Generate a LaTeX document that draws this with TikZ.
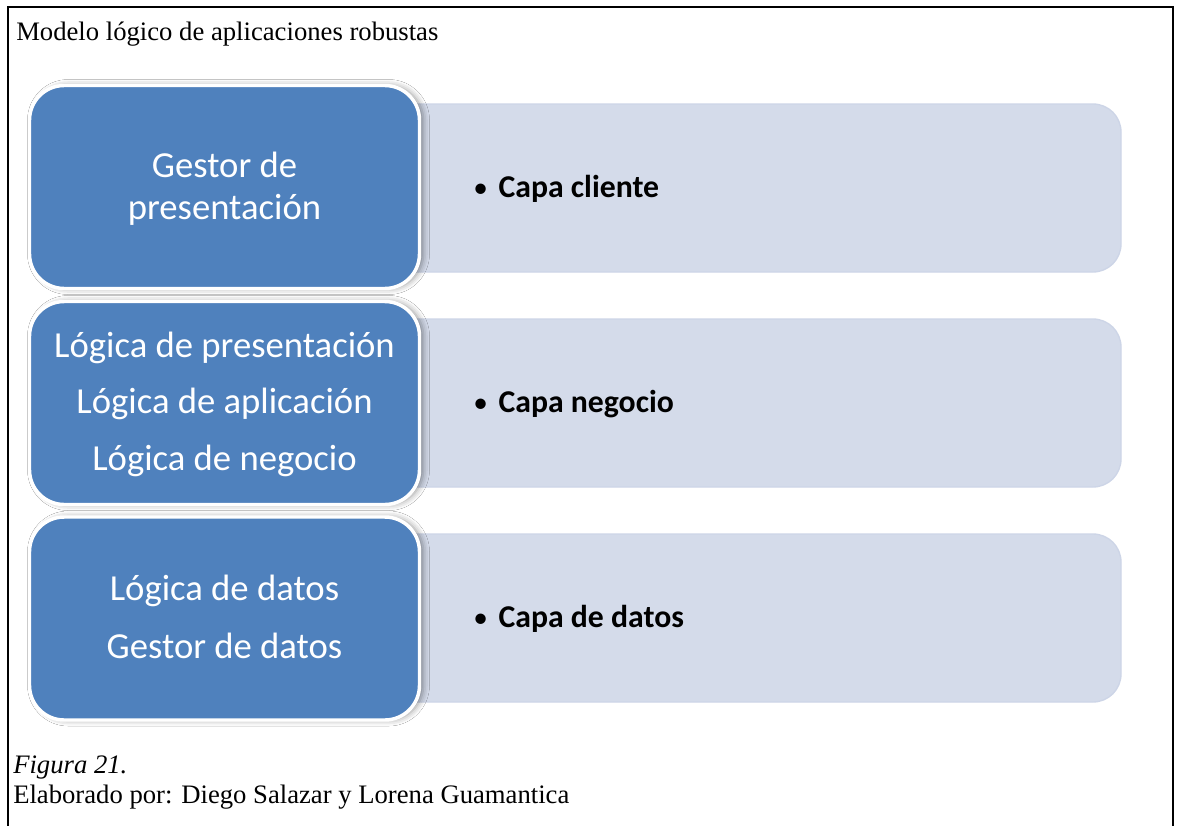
\documentclass[tikz,border=0pt]{standalone}
\usepackage{fontspec}
\setmainfont{Liberation Serif}
\newfontfamily\calibri{Carlito}
\usetikzlibrary{shadows.blur}
\definecolor{bluefill}{HTML}{4F81BD}
\definecolor{lightfill}{HTML}{D4DBEA}
\definecolor{lightedge}{HTML}{CDD5E7}
\newcommand{\layerbullet}{\makebox[19pt][l]{\mdseries\fontsize{22}{26}\selectfont•}}
\begin{document}
\begin{tikzpicture}[x=0.75pt,y=-0.75pt,
  frame/.style={draw=black, line width=1.5pt},
  lightbox/.style={fill=lightfill, draw=lightedge, line width=1pt, rounded corners=21pt,
    minimum width=593.25pt, minimum height=126pt, inner sep=0pt},
  bluebox/.style={fill=bluefill, draw=white, line width=2.6pt, rounded corners=26pt,
    minimum width=292.5pt, minimum height=152.25pt, inner sep=0pt,
    blur shadow={shadow xshift=3pt, shadow yshift=0pt, shadow blur radius=4.5pt, shadow opacity=40}},
  bluetext/.style={anchor=base, inner sep=0pt, text=white, font=\calibri\fontsize{27.5}{33}\selectfont},
  layertext/.style={anchor=base west, inner sep=0pt, text=black, font=\calibri\bfseries\fontsize{23.8}{28}\selectfont},
  caption/.style={anchor=base west, inner sep=0pt, font=\fontsize{20}{24}\selectfont},
]
\useasboundingbox (0,0) rectangle (1178,825);
\fill[white] (0,0) rectangle (1178,825);
\draw[frame] (8,850) -- (8,7) -- (1173,7) -- (1173,850);

\node[caption] (title) at (16,40) {Modelo lógico de aplicaciones robustas};

% light layer boxes
\node[lightbox] (l1) at (725.5,188) {};
\node[lightbox] (l2) at (725.5,403) {};
\node[lightbox] (l3) at (725.5,618) {};

% blue boxes
\node[bluebox] (b1) at (224.5,187) {};
\node[bluebox] (b2) at (224.5,403) {};
\node[bluebox] (b3) at (224.5,618.5) {};

\node[bluetext] (b1a) at (224.5,177) {Gestor de};
\node[bluetext] (b1b) at (224.5,219) {presentación};

\node[bluetext] (b2a) at (224.5,357) {Lógica de presentación};
\node[bluetext] (b2b) at (224.5,413) {Lógica de aplicación};
\node[bluetext] (b2c) at (224.5,470) {Lógica de negocio};

\node[bluetext] (b3a) at (224.5,600) {Lógica de datos};
\node[bluetext] (b3b) at (224.5,658) {Gestor de datos};

\node[layertext] (t1) at (473,197) {\layerbullet Capa cliente};
\node[layertext] (t2) at (473,412) {\layerbullet Capa negocio};
\node[layertext] (t3) at (473,627) {\layerbullet Capa de datos};

\node[caption, font=\itshape\fontsize{20}{24}\selectfont] (fig) at (13,773) {Figura 21.};
\node[caption] (credit) at (13,803) {Elaborado por: Diego Salazar y Lorena Guamantica};
\end{tikzpicture}
\end{document}
